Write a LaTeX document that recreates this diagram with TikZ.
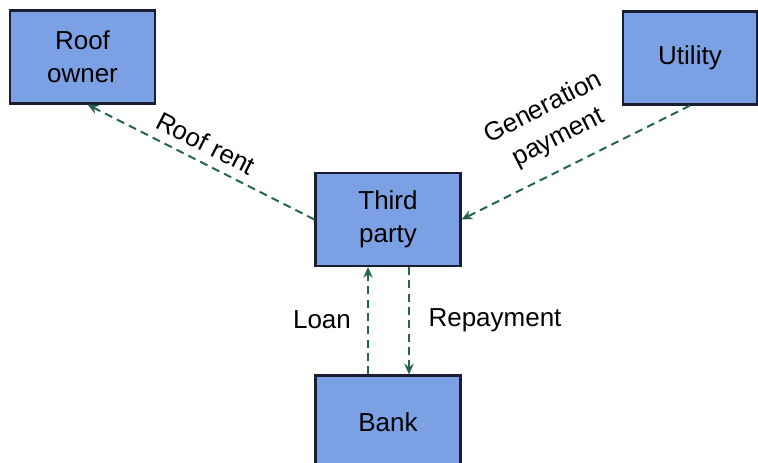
\documentclass[tikz,border=0pt]{standalone}
\usepackage{fontspec}
\setmainfont{Liberation Sans}
\usetikzlibrary{arrows.meta,calc}
\definecolor{boxfill}{RGB}{124,160,228}
\definecolor{boxline}{RGB}{25,30,50}
\definecolor{arrowc}{RGB}{38,98,88}
\tikzset{
  party/.style={draw=boxline, line width=1.6pt, fill=boxfill, minimum width=145*0.75pt, minimum height=93*0.75pt, align=center, inner sep=0pt, font=\fontsize{19.5}{25}\selectfont},
  flow/.style={draw=arrowc, line width=1.5pt, dash pattern=on 6pt off 4pt, -{Stealth[length=8pt,width=7pt]}},
  lbl/.style={font=\fontsize{19.5}{25}\selectfont, align=center, inner sep=0pt}
}
\begin{document}
\begin{tikzpicture}[x=0.75pt,y=-0.75pt]
\useasboundingbox (0,0) rectangle (758,462);
\clip (0,0) rectangle (758,462);
\node[party] (roof) at (82.5,57) {Roof\\owner};
\node[party, minimum width=134*0.75pt] (util) at (690,58) {Utility};
\node[party] (third) at (388,219.5) {Third\\party};
\node[party] (bank) at (388,422) {Bank};
\draw[flow] (third.west) -- ([xshift=5*0.75pt]roof.south);
\draw[flow] (util.south) -- (third.east);
\draw[flow] ([xshift=-20*0.75pt]bank.north) -- ([xshift=-20*0.75pt]third.south);
\draw[flow] ([xshift=21*0.75pt]third.south) -- ([xshift=21*0.75pt]bank.north);
\node[lbl, rotate=-27] (lrent) at (206,143) {Roof rent};
\node[lbl, rotate=27] (lgen) at (551,123) {Generation\\payment};
\node[lbl] (lloan) at (322,320) {Loan};
\node[lbl] (lrep) at (495,320) {Repayment};
\end{tikzpicture}
\end{document}
